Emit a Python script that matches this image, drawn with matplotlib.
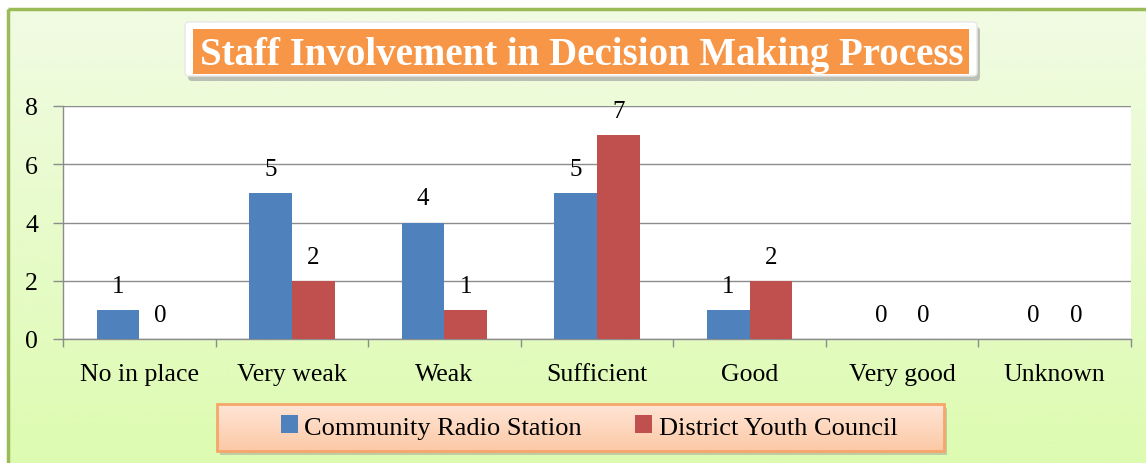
import matplotlib
matplotlib.use("Agg")
import matplotlib.pyplot as plt
import numpy as np
from matplotlib.patches import FancyBboxPatch, Rectangle

categories = ["No in place", "Very weak", "Weak", "Sufficient", "Good", "Very good", "Unknown"]
community = [1, 5, 4, 5, 1, 0, 0]
district = [0, 2, 1, 7, 2, 0, 0]
series_names = ["Community Radio Station", "District Youth Council"]
title = "Staff Involvement in Decision Making Process"

blue = "#4F81BD"
red = "#C0504D"
serif = ["Liberation Serif", "DejaVu Serif"]

W, H = 1146, 464
fig = plt.figure(figsize=(W / 100, H / 100), dpi=100)
fig.patch.set_facecolor("white")

# background gradient panel
bg = fig.add_axes([0, 0, 1, 1], zorder=0)
bg.set_xlim(0, W)
bg.set_ylim(H, 0)
bg.axis("off")
grad = np.linspace(0, 1, 256).reshape(-1, 1)
top_c = np.array([0xF1, 0xFB, 0xE3]) / 255
bot_c = np.array([0xDD, 0xFB, 0xB0]) / 255
img = top_c[None, None, :] * (1 - grad[:, :, None]) + bot_c[None, None, :] * grad[:, :, None]
bg.imshow(img, extent=[8, W + 5, H + 5, 10], aspect="auto", zorder=0)
bg.add_patch(Rectangle((8, 10), W, H, fill=False, edgecolor="#9BBB59", linewidth=2.5, zorder=1))

# title box with shadow
bg.add_patch(FancyBboxPatch((188, 28), 792, 54, boxstyle="round,pad=0,rounding_size=4",
                            facecolor="#9a9a9a", edgecolor="none", alpha=0.6, zorder=2))
bg.add_patch(FancyBboxPatch((185, 23), 792, 54, boxstyle="round,pad=0,rounding_size=4",
                            facecolor="white", edgecolor="#e8e8e8", linewidth=1, zorder=3))
bg.add_patch(Rectangle((193, 30), 776, 45, facecolor="#F79646", edgecolor="none", zorder=4))
bg.text(582, 55, title, ha="center", va="center", color="white", fontsize=28,
        fontweight="bold", family=serif, zorder=5)

# legend box with shadow and gradient
bg.add_patch(Rectangle((220, 409), 727, 47, facecolor="#a0a0a0", edgecolor="none", alpha=0.5, zorder=2))
lg = np.linspace(0, 1, 64).reshape(-1, 1)
lt = np.array([0xFF, 0xE5, 0xD6]) / 255
lb = np.array([0xFC, 0xC9, 0xA6]) / 255
limg = lt[None, None, :] * (1 - lg[:, :, None]) + lb[None, None, :] * lg[:, :, None]
bg.imshow(limg, extent=[217, 944, 452, 405], aspect="auto", zorder=3)
bg.add_patch(Rectangle((217, 405), 727, 47, fill=False, edgecolor="#F5A66A", linewidth=2, zorder=4))

# main axes
ax = fig.add_axes([63 / W, 1 - 340 / H, (1131 - 63) / W, (340 - 107) / H], zorder=2)
ax.set_facecolor("white")
x = np.arange(len(categories))
bw = 0.28
b1 = ax.bar(x - bw / 2, community, bw, color=blue, zorder=3, label=series_names[0])
b2 = ax.bar(x + bw / 2, district, bw, color=red, zorder=3, label=series_names[1])
for bars, vals in ((b1, community), (b2, district)):
    for rect, v in zip(bars, vals):
        ax.text(rect.get_x() + rect.get_width() / 2, v + 0.45, str(v), ha="center", va="bottom",
                fontsize=18, family=serif, color="black")

ax.set_xlim(-0.5, len(categories) - 0.5)
ax.set_ylim(0, 8)
ax.set_yticks([0, 2, 4, 6, 8])
ax.yaxis.grid(True, color="#8c8c8c", linewidth=1, zorder=0)
ax.set_axisbelow(True)
ax.set_xticks(x)
ax.set_xticklabels(categories, fontsize=18.5, family=serif)
ax.tick_params(axis="x", length=0, pad=17)
ax.set_xticks(np.arange(-0.5, len(categories)), minor=True)
ax.tick_params(axis="x", which="minor", length=6, color="#8c8c8c", width=1)
ax.tick_params(axis="y", length=7, color="#8c8c8c", width=1, pad=11, labelsize=18.5)
for lab in ax.get_yticklabels():
    lab.set_family(serif)
for s in ("top", "right"):
    ax.spines[s].set_visible(False)
for s in ("left", "bottom"):
    ax.spines[s].set_color("#8c8c8c")
    ax.spines[s].set_linewidth(1)

leg = fig.legend(handles=[b1, b2], labels=series_names, loc="center",
                 bbox_to_anchor=(589 / W, 1 - 428 / H), ncol=2, frameon=False,
                 prop={"family": serif, "size": 19}, handlelength=0.65, handleheight=0.65,
                 handletextpad=0.25, columnspacing=2.0)
leg.set_zorder(6)

fig.savefig("out.png", dpi=100, facecolor=fig.get_facecolor())
